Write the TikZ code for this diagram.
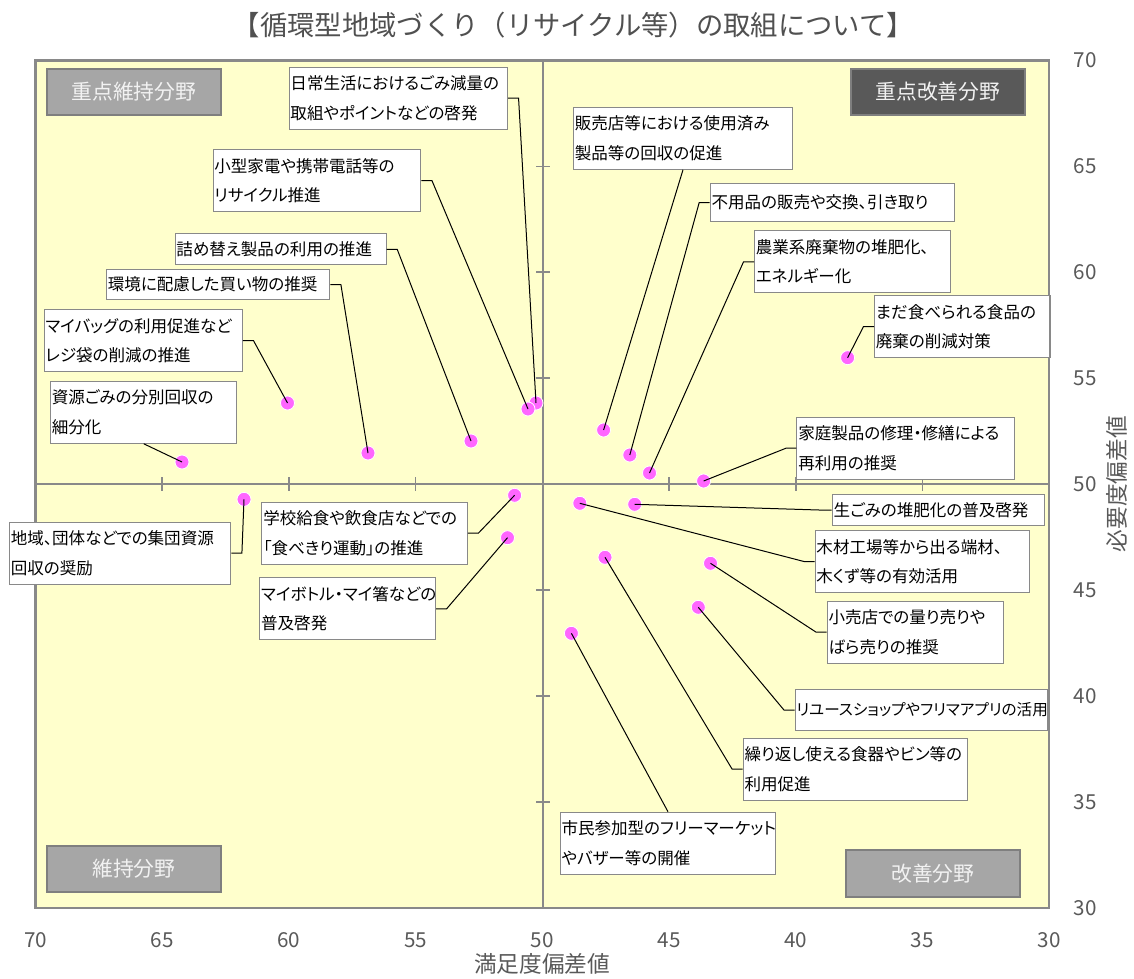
\documentclass[tikz,border=0pt]{standalone}
\usepackage{fontspec}
\setmainfont{Noto Sans CJK JP}
\newfontfamily\jpprop{Noto Sans CJK JP}[RawFeature={+palt}]
\usepackage{tikz}

\begin{document}
\begin{tikzpicture}[x=0.75pt,y=0.75pt,yscale=-1,xscale=1,
	lbl/.style={draw={rgb, 255:red, 137; green, 137; blue, 137}, fill=white, line width=0.8pt, inner xsep=1pt, inner ysep=0pt, anchor=north west, align=left, minimum height=46.5pt, font=\jpprop\fontsize{12.4pt}{22pt}\selectfont},
	dot/.style={circle, fill={rgb, 255:red, 255; green, 102; blue, 255}, draw=white, line width=0.6pt, inner sep=0pt, minimum size=10.5pt},
	lead/.style={draw=black, line width=0.75pt},
	zone/.style={draw={rgb, 255:red, 127; green, 127; blue, 127}, line width=1.5pt, fill={rgb, 255:red, 166; green, 166; blue, 166}, text={rgb, 255:red, 242; green, 242; blue, 242}, anchor=north west, inner sep=0pt, minimum width=131pt, minimum height=35pt, font=\fontsize{15.6pt}{18pt}\selectfont},
	tick/.style={text={rgb, 255:red, 89; green, 89; blue, 89}, inner sep=0pt, font=\fontsize{15.5pt}{18pt}\selectfont},
	axis/.style={draw={rgb, 255:red, 137; green, 137; blue, 137}, line width=1.7pt}
	]
	\useasboundingbox (0,0) rectangle (1134,978);

	%Shape: Rectangle (plot area)
	\draw [fill={rgb, 255:red, 255; green, 255; blue, 204}, draw={rgb, 255:red, 137; green, 137; blue, 137}, line width=1.6pt] (35.5,60.5) rectangle (1049,908);
	%Straight Lines (axes through 50/50)
	\draw [axis] (543,60.5) -- (543,908);
	\draw [axis] (35.5,484) -- (1049,484);
	%Straight Lines (ticks)
	\draw [axis, line width=1.3pt] (162.2,477) -- (162.2,491) (288.9,477) -- (288.9,491) (415.6,477) -- (415.6,491)
		(669,477) -- (669,491) (795.7,477) -- (795.7,491) (922.4,477) -- (922.4,491);
	\draw [axis, line width=1.3pt] (536,166.4) -- (550,166.4) (536,272.3) -- (550,272.3) (536,378.3) -- (550,378.3)
		(536,590.1) -- (550,590.1) (536,696) -- (550,696) (536,801.9) -- (550,801.9);

	%Shape: Rectangle (zones)
	\node [zone] (zkeep) at (45.5,67.5) {重点維持分野};
	\node [zone, fill={rgb, 255:red, 89; green, 89; blue, 89}] (zimprove) at (849.5,67.5) {重点改善分野};
	\node [zone] (zkeeplow) at (45.5,844.5) {維持分野};
	\node [zone] (zimprovelow) at (844.5,849) {改善分野};

	%Shape: Circle (items)
	\node [dot] (p1) at (536,403) {};
	\node [dot] (p2) at (528,409) {};
	\node [dot] (p3) at (471,441) {};
	\node [dot] (p4) at (368,453) {};
	\node [dot] (p5) at (287.5,403) {};
	\node [dot] (p6) at (182,462) {};
	\node [dot] (p7) at (603.6,430) {};
	\node [dot] (p8) at (629.8,455) {};
	\node [dot] (p9) at (649.5,473) {};
	\node [dot] (p10) at (847.6,357.7) {};
	\node [dot] (p11) at (703.6,481) {};
	\node [dot] (p12) at (244,499.3) {};
	\node [dot] (p13) at (514.6,495.3) {};
	\node [dot] (p14) at (507.5,537.7) {};
	\node [dot] (p15) at (634.7,504.3) {};
	\node [dot] (p16) at (579.8,503.3) {};
	\node [dot] (p17) at (710.5,563.3) {};
	\node [dot] (p18) at (698.3,607.3) {};
	\node [dot] (p19) at (605,557.3) {};
	\node [dot] (p20) at (571.4,633.3) {};

	% Text Node (labels)
	\node [lbl, text width=161.8pt] (l1) at (288.6,66.7) {日常生活におけるごみ減量の\\取組やポイントなどの啓発};
	\node [lbl, text width=153.9pt] (l2) at (212.5,149) {小型家電や携帯電話等の\\リサイクル推進};
	\node [lbl, text width=156.3pt, minimum height=23.3pt] (l3) at (174.6,233.3) {詰め替え製品の利用の推進};
	\node [lbl, text width=165.5pt, minimum height=23pt] (l4) at (106,268.7) {環境に配慮した買い物の推奨};
	\node [lbl, text width=146.7pt] (l5) at (43.6,309) {マイバッグの利用促進など\\レジ袋の削減の推進};
	\node [lbl, text width=137.8pt] (l6) at (50,380.7) {資源ごみの分別回収の\\細分化};
	\node [lbl, text width=162.2pt] (l7) at (573,106.7) {販売店等における使用済み\\製品等の回収の促進};
	\node [lbl, text width=180.9pt, minimum height=28.5pt] (l8) at (709.7,183) {不用品の販売や交換、引き取り};
	\node [lbl, text width=144.9pt] (l9) at (754,230.3) {農業系廃棄物の堆肥化、\\エネルギー化};
	\node [lbl, text width=129.6pt] (l10) at (874,295) {まだ食べられる食品の\\廃棄の削減対策};
	\node [lbl, text width=161.4pt] (l11) at (796.4,416.7) {家庭製品の修理・修繕による\\再利用の推奨};
	\node [lbl, text width=164pt] (l12) at (9,521.7) {地域、団体などでの集団資源\\回収の奨励};
	\node [lbl, text width=152pt] (l13) at (261.4,501.7) {学校給食や飲食店などでの\\「食べきり運動」の推進};
	\node [lbl, text width=129.8pt] (l14) at (259.3,577.3) {マイボトル・マイ箸などの\\普及啓発};
	\node [lbl, text width=157.1pt, minimum height=23.3pt] (l15) at (831.7,494) {生ごみの堆肥化の普及啓発};
	\node [lbl, text width=158.5pt] (l16) at (814.6,530) {木材工場等から出る端材、\\木くず等の有効活用};
	\node [lbl, text width=130.5pt] (l17) at (826.7,600.7) {小売店での量り売りや\\ばら売りの推奨};
	\node [lbl, text width=187.2pt, minimum height=30.8pt, font=\jpprop\fontsize{11.7pt}{22pt}\selectfont] (l18) at (794.5,689) {リユースショップやフリマアプリの活用};
	\node [lbl, text width=166.5pt] (l19) at (742.7,737.7) {繰り返し使える食器やビン等の\\利用促進};
	\node [lbl, text width=159.6pt] (l20) at (559.7,811.7) {市民参加型のフリーマーケット\\やバザー等の開催};

	%Straight Lines (leaders)
	\draw [lead] (l1.east) -- ++(10.5,0) -- (p1.center);
	\draw [lead] (l2.east) -- ++(10.5,0) -- (p2.center);
	\draw [lead] (l3.east) -- ++(10.5,0) -- (p3.center);
	\draw [lead] (l4.east) -- ++(10.5,0) -- (p4.center);
	\draw [lead] (l5.east) -- ++(10.5,0) -- (p5.center);
	\draw [lead] (l6.south) -- (p6.center);
	\draw [lead] (l7.south) -- (p7.center);
	\draw [lead] (l8.west) -- ++(-10.5,0) -- (p8.center);
	\draw [lead] (l9.west) -- ++(-10.5,0) -- (p9.center);
	\draw [lead] (l10.west) -- ++(-10.5,0) -- (p10.center);
	\draw [lead] (l11.west) -- ++(-10.5,0) -- (p11.center);
	\draw [lead] (l12.east) -- ++(10.5,0) -- (p12.center);
	\draw [lead] (l13.east) -- ++(10.5,0) -- (p13.center);
	\draw [lead] (l14.east) -- ++(10.5,0) -- (p14.center);
	\draw [lead] (l15.west) -- ++(-10.5,0) -- (p15.center);
	\draw [lead] (l16.west) -- ++(-10.5,0) -- (p16.center);
	\draw [lead] (l17.west) -- ++(-10.5,0) -- (p17.center);
	\draw [lead] (l18.west) -- ++(-10.5,0) -- (p18.center);
	\draw [lead] (l19.west) -- ++(-10.5,0) -- (p19.center);
	\draw [lead] (l20.north) -- (p20.center);

	% Text Node (title)
	\node [text={rgb, 255:red, 80; green, 80; blue, 80}, font=\fontsize{20.5pt}{24pt}\selectfont] (title) at (573.5,25) {【循環型地域づくり（リサイクル等）の取組について】};
	% Text Node (x tick labels)
	\node [tick] (x70) at (35.5,940) {70};
	\node [tick] (x65) at (162.2,940) {65};
	\node [tick] (x60) at (288.9,940) {60};
	\node [tick] (x55) at (415.6,940) {55};
	\node [tick] (x50) at (542.3,940) {50};
	\node [tick] (x45) at (669,940) {45};
	\node [tick] (x40) at (795.7,940) {40};
	\node [tick] (x35) at (922.4,940) {35};
	\node [tick] (x30) at (1049,940) {30};
	% Text Node (y tick labels)
	\node [tick] (y70) at (1085,60.5) {70};
	\node [tick] (y65) at (1085,166.4) {65};
	\node [tick] (y60) at (1085,272.3) {60};
	\node [tick] (y55) at (1085,378.3) {55};
	\node [tick] (y50) at (1085,484.2) {50};
	\node [tick] (y45) at (1085,590.1) {45};
	\node [tick] (y40) at (1085,696) {40};
	\node [tick] (y35) at (1085,801.9) {35};
	\node [tick] (y30) at (1085,908) {30};
	% Text Node (axis titles)
	\node [tick, font=\fontsize{17pt}{19pt}\selectfont] (xtitle) at (542,964) {満足度偏差値};
	\node [tick, font=\fontsize{17pt}{19pt}\selectfont, rotate=90] (ytitle) at (1117,484) {必要度偏差値};

\end{tikzpicture}
\end{document}
